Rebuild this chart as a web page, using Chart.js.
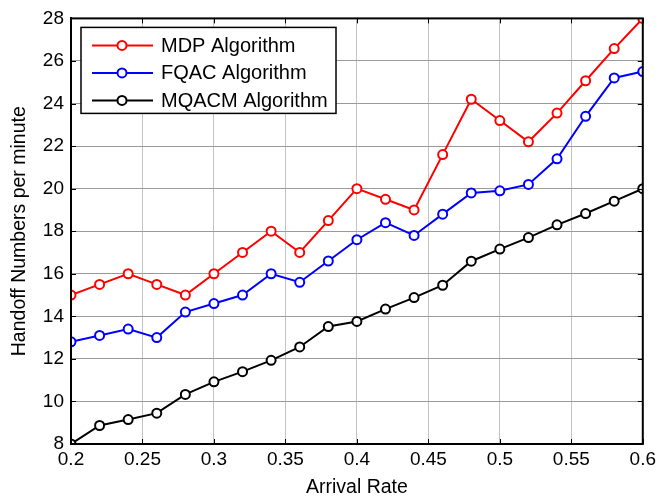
<!DOCTYPE html>
<html>
<head>
<meta charset="utf-8">
<script src="https://cdn.jsdelivr.net/npm/chart.js@4"></script>
<style>
  html, body { margin: 0; padding: 0; background: #fff; }
  #wrap { width: 660px; height: 500px; }
</style>
</head>
<body>
<div id="wrap"><canvas id="myChart" width="660" height="500"></canvas></div>
<script>
const arrivalRate = [0.2, 0.22, 0.24, 0.26, 0.28, 0.3, 0.32, 0.34, 0.36, 0.38, 0.4,
                     0.42, 0.44, 0.46, 0.48, 0.5, 0.52, 0.54, 0.56, 0.58, 0.6]
const mdp = [15, 15.5, 16, 15.5, 15, 16, 17, 18, 17, 18.5, 20,
             19.5, 19, 21.6, 24.2, 23.2, 22.2, 23.55, 25.07, 26.58, 28]
const fqac = [12.8, 13.1, 13.4, 13, 14.2, 14.6, 15, 16, 15.6, 16.6, 17.6,
              18.4, 17.8, 18.8, 19.8, 19.9, 20.2, 21.4, 23.4, 25.2, 25.5]
const mqacm = [8, 8.87, 9.15, 9.45, 10.33, 10.92, 11.4, 11.93, 12.56, 13.52, 13.76,
               14.34, 14.88, 15.46, 16.59, 17.16, 17.7, 18.3, 18.83, 19.41, 20]
const xTicks = [0.2, 0.25, 0.3, 0.35, 0.4, 0.45, 0.5, 0.55, 0.6]
const yTicks = [8, 10, 12, 14, 16, 18, 20, 22, 24, 26, 28]
const seriesNames = ["MDP Algorithm", "FQAC Algorithm", "MQACM Algorithm"]
const seriesColors = ["#ff0000", "#0000ff", "#000000"]

const font = "'Liberation Sans', Arial, sans-serif"

function toPoints(values) {
    return values.map((v, i) => ({ x: arrivalRate[i], y: v }))
}

const allSeries = [mdp, fqac, mqacm]
const datasets = allSeries.map((values, i) => ({
    label: seriesNames[i],
    data: toPoints(values),
    borderColor: seriesColors[i],
    backgroundColor: "#ffffff",
    borderWidth: 2,
    pointRadius: 4.5,
    pointBorderWidth: 2,
    pointBackgroundColor: "#ffffff",
    pointBorderColor: seriesColors[i],
    tension: 0
}))

// box round the plot, inward ticks on all sides, legend inside the axes
const matlabBox = {
    id: "matlabBox",
    afterDraw(chart) {
        const c = chart.ctx
        const a = chart.chartArea
        const xs = chart.scales.x
        const ys = chart.scales.y
        c.save()
        c.strokeStyle = "#000"
        c.lineWidth = 1
        c.beginPath()
        for (let t of xTicks) {
            const px = Math.round(xs.getPixelForValue(t)) + 0.5
            c.moveTo(px, a.top); c.lineTo(px, a.top + 5)
            c.moveTo(px, a.bottom); c.lineTo(px, a.bottom - 5)
        }
        for (let t of yTicks) {
            const py = Math.round(ys.getPixelForValue(t)) + 0.5
            c.moveTo(a.left, py); c.lineTo(a.left + 5, py)
            c.moveTo(a.right, py); c.lineTo(a.right - 5, py)
        }
        c.stroke()
        c.lineWidth = 2
        c.strokeRect(a.left, a.top, a.right - a.left, a.bottom - a.top)

        // legend
        const lx = a.left + 10, ly = a.top + 9, lw = 255, lh = 86
        c.fillStyle = "#fff"
        c.fillRect(lx, ly, lw, lh)
        c.lineWidth = 1.5
        c.strokeRect(lx, ly, lw, lh)
        c.font = "20px " + font
        c.textBaseline = "middle"
        seriesNames.forEach((name, i) => {
            const ry = ly + 18 + i * 27.5
            c.strokeStyle = seriesColors[i]
            c.lineWidth = 2
            c.beginPath()
            c.moveTo(lx + 11, ry); c.lineTo(lx + 72, ry)
            c.stroke()
            c.beginPath()
            c.arc(lx + 41, ry, 4.5, 0, Math.PI * 2)
            c.fillStyle = "#fff"
            c.fill()
            c.stroke()
            c.fillStyle = "#000"
            c.fillText(name, lx + 80, ry + 1)
        })
        c.restore()
    }
}

const ctx = document.getElementById("myChart").getContext("2d")

const myChart = new Chart(ctx, {
    type: "line",
    data: { datasets: datasets },
    options: {
        responsive: false,
        animation: false,
        layout: { padding: { top: 14, right: 14, left: 0, bottom: 0 } },
        plugins: {
            legend: { display: false },
            tooltip: { enabled: false }
        },
        scales: {
            x: {
                type: "linear",
                min: 0.2,
                max: 0.6,
                afterBuildTicks: (scale) => { scale.ticks = xTicks.map(v => ({ value: v })) },
                afterFit: (scale) => { scale.height = 56 },
                ticks: {
                    color: "#000",
                    font: { family: font, size: 19 },
                    padding: 4,
                    maxRotation: 0,
                    callback: (v) => String(Number(v.toFixed(2)))
                },
                grid: { color: "#c4c4c4", lineWidth: 1, drawTicks: false },
                border: { color: "#000", width: 2 },
                title: {
                    display: true,
                    text: "Arrival Rate",
                    color: "#000",
                    font: { family: font, size: 19.5 },
                    padding: { top: 0, bottom: 1 }
                }
            },
            y: {
                min: 8,
                max: 28,
                afterBuildTicks: (scale) => { scale.ticks = yTicks.map(v => ({ value: v })) },
                afterFit: (scale) => { scale.width = 71 },
                ticks: {
                    color: "#000",
                    font: { family: font, size: 19 },
                    padding: 7
                },
                grid: { color: "#9a9a9a", lineWidth: 1, drawTicks: false },
                border: { color: "#000", width: 2 },
                title: {
                    display: true,
                    text: "Handoff Numbers per minute",
                    color: "#000",
                    font: { family: font, size: 19.5 },
                    padding: { top: 8, bottom: 0 }
                }
            }
        }
    },
    plugins: [matlabBox]
})
</script>
</body>
</html>
